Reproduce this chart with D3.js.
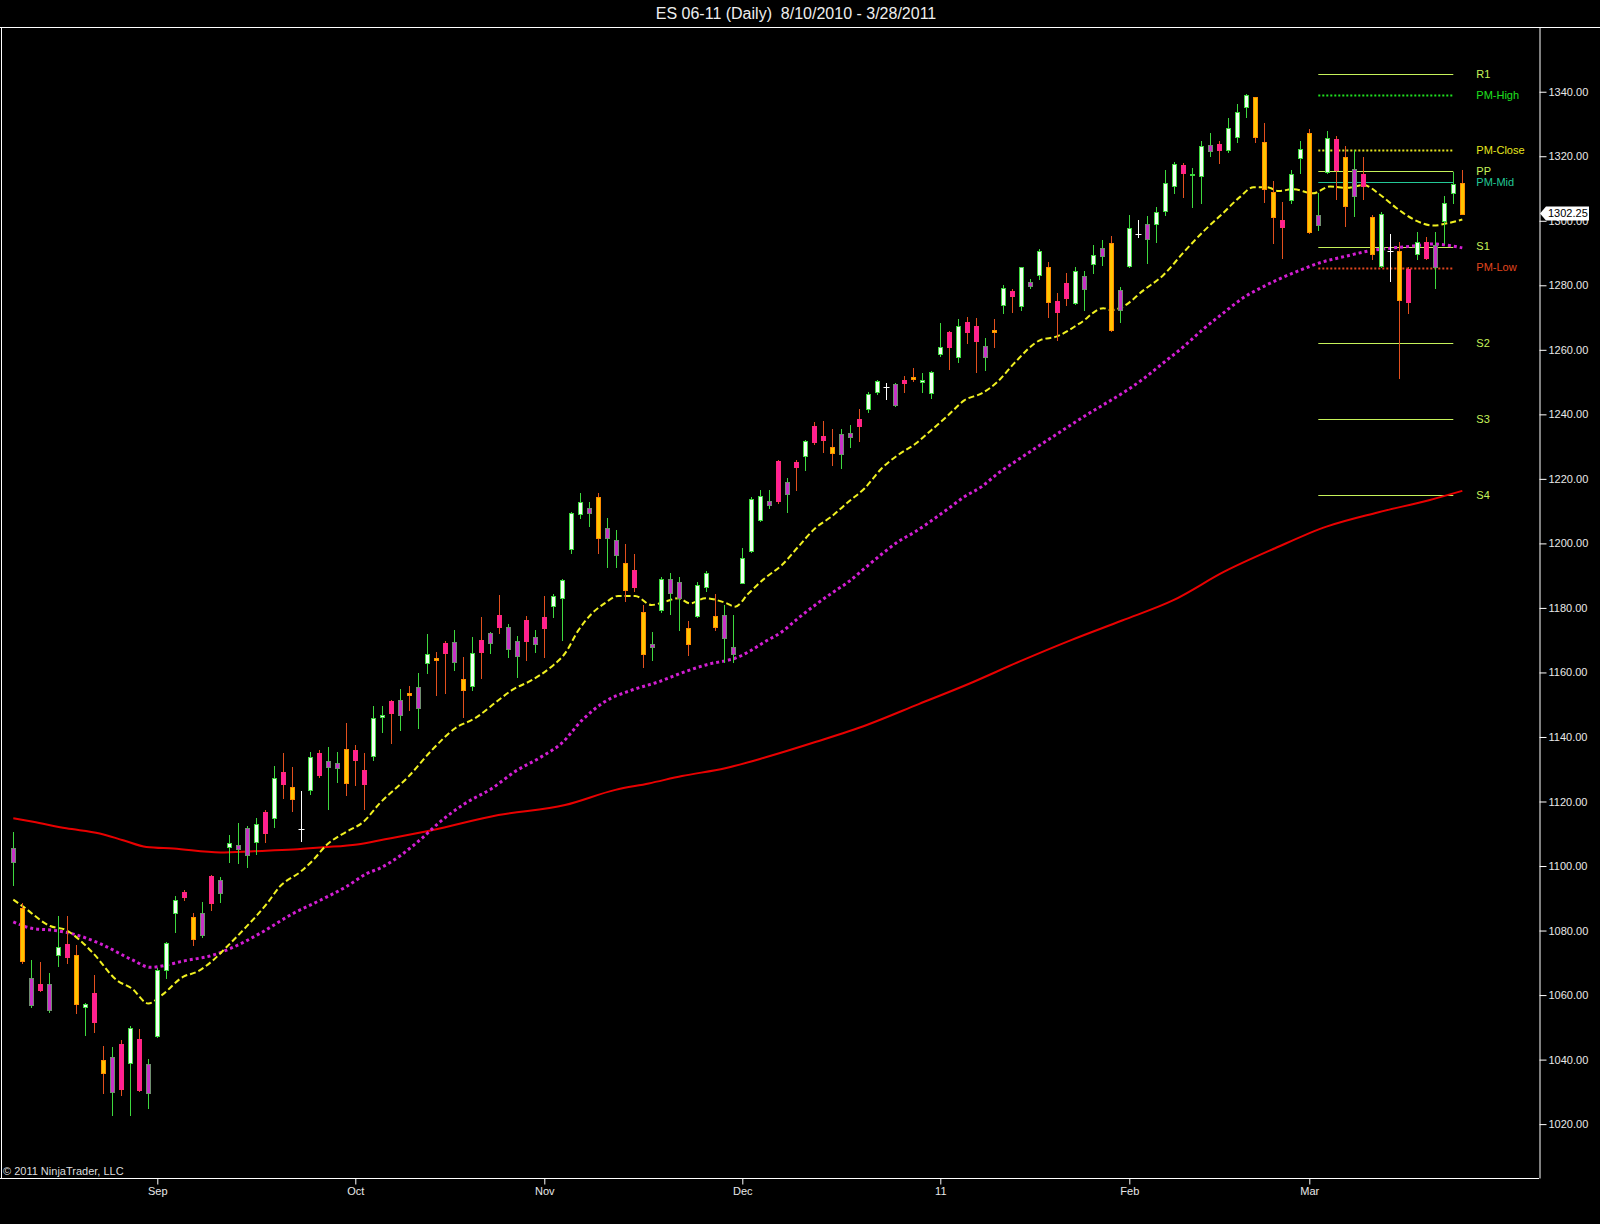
<!DOCTYPE html>
<html>
<head>
<meta charset="utf-8">
<script src="https://cdn.jsdelivr.net/npm/d3@7"></script>
<style>
  body { margin: 0; background: #000; }
  svg { display: block; font-family: "Liberation Sans", Arial, sans-serif; }
</style>
</head>
<body>
<svg id="chart" width="1600" height="1224"></svg>
<script>
// ES 06-11 daily bars (one entry per bar, left to right)
var opens = [1101.1,1087.0,1056.9,1063.4,1055.3,1072.2,1075.8,1072.4,1056.2,1060.5,
  1039.8,1029.9,1044.7,1039.1,1046.3,1029.5,1047.4,1067.7,1085.5,1092.0,
  1084.1,1078.6,1096.9,1091.5,1105.9,1105.2,1103.4,1107.3,1116.7,1114.8,
  1129.2,1124.4,1111.4,1123.5,1135.1,1130.5,1130.3,1136.4,1135.9,1129.7,
  1133.9,1146.2,1151.1,1146.6,1153.5,1149.0,1162.8,1164.4,1169.0,1163.3,
  1158.1,1155.6,1170.0,1169.0,1177.8,1167.2,1165.1,1176.4,1169.0,1177.1,
  1180.6,1183.0,1198.3,1209.3,1209.5,1214.3,1201.9,1196.6,1194.0,1191.9,
  1178.8,1167.8,1179.3,1184.7,1183.0,1173.7,1177.5,1186.4,1177.5,1170.6,
  1165.7,1187.8,1197.7,1207.4,1212.1,1225.5,1215.5,1225.1,1226.9,1236.4,
  1233.3,1229.8,1227.6,1233.0,1238.7,1241.5,1247.0,1248.4,1242.9,1250.8,
  1251.6,1250.1,1246.8,1258.7,1265.4,1257.7,1268.7,1267.5,1257.9,1266.1,
  1273.9,1278.2,1273.6,1279.8,1283.2,1285.8,1275.1,1280.6,1274.6,1279.1,
  1286.5,1289.1,1293.2,1272.3,1286.0,1295.9,1294.2,1299.0,1302.8,1310.8,
  1317.3,1314.2,1313.9,1321.7,1323.8,1321.9,1325.9,1335.2,1338.3,1324.3,
  1309.0,1300.2,1306.4,1319.4,1327.3,1298.7,1315.2,1325.2,1319.9,1307.5,
  1314.5,1301.3,1286.0,1290.7,1290.7,1285.2,1289.9,1293.5,1285.6,1300.0,
  1308.5,1311.8];
var highs = [1110.6,1088.4,1070.8,1070.3,1066.9,1084.5,1084.5,1075.5,1057.5,1066.2,
  1044.2,1044.0,1046.2,1050.4,1049.4,1040.1,1068.3,1076.3,1090.7,1092.5,
  1085.3,1088.9,1097.2,1096.7,1109.6,1113.2,1112.4,1114.8,1117.5,1130.9,
  1135.1,1130.8,1123.3,1135.4,1136.1,1136.9,1135.4,1144.4,1137.5,1135.1,
  1149.6,1149.6,1151.6,1154.8,1155.8,1159.7,1171.9,1166.4,1169.8,1173.1,
  1164.9,1171.0,1177.3,1172.6,1184.0,1175.0,1171.3,1177.5,1173.3,1183.7,
  1184.3,1188.9,1209.8,1215.7,1212.7,1215.5,1207.8,1204.1,1199.8,1196.7,
  1180.9,1172.6,1189.6,1190.9,1189.5,1176.0,1188.1,1191.5,1184.3,1180.9,
  1177.8,1198.5,1214.5,1216.5,1216.5,1225.8,1220.2,1225.8,1232.0,1237.7,
  1238.0,1235.4,1235.4,1236.7,1241.6,1247.0,1250.6,1249.8,1249.8,1251.9,
  1254.4,1252.9,1253.5,1268.4,1265.9,1269.5,1270.1,1269.8,1263.6,1269.5,
  1280.1,1278.8,1285.8,1281.8,1291.1,1287.3,1277.5,1283.9,1285.6,1284.4,
  1292.5,1294.0,1295.3,1279.4,1301.8,1300.2,1301.5,1304.2,1315.7,1318.3,
  1318.0,1316.3,1324.7,1327.1,1324.8,1331.8,1336.2,1339.3,1338.5,1330.4,
  1312.4,1305.9,1315.7,1324.8,1328.3,1308.5,1327.9,1326.3,1323.2,1321.9,
  1319.7,1301.8,1302.8,1295.9,1293.5,1285.8,1296.6,1295.1,1296.6,1307.7,
  1315.2,1315.7];
var lows = [1094.1,1070.0,1056.4,1061.3,1054.8,1069.1,1069.8,1054.3,1047.6,1048.4,
  1029.7,1022.8,1028.9,1022.8,1030.3,1024.9,1046.9,1065.2,1079.6,1089.6,
  1075.5,1078.1,1086.3,1088.9,1101.3,1100.8,1099.7,1103.7,1107.5,1112.0,
  1121.0,1117.1,1107.8,1122.3,1127.5,1117.8,1126.1,1122.0,1125.1,1117.8,
  1132.8,1141.6,1138.0,1142.1,1148.5,1142.7,1159.9,1153.0,1153.5,1160.9,
  1146.3,1154.7,1158.2,1166.1,1172.1,1164.7,1158.5,1164.0,1166.4,1164.7,
  1177.1,1170.2,1197.1,1207.8,1205.4,1197.1,1192.6,1192.8,1182.2,1185.3,
  1161.8,1164.0,1178.8,1178.1,1173.3,1165.4,1177.1,1185.3,1173.3,1163.2,
  1163.2,1187.6,1197.4,1207.0,1210.9,1212.6,1209.8,1216.5,1222.9,1230.8,
  1228.4,1224.3,1223.3,1230.0,1231.8,1240.8,1246.2,1244.7,1242.6,1247.0,
  1250.4,1247.0,1245.1,1258.1,1253.9,1256.3,1262.0,1253.2,1253.7,1261.0,
  1271.5,1271.8,1272.3,1279.1,1281.8,1270.3,1263.0,1273.9,1274.2,1272.3,
  1283.9,1286.3,1265.9,1268.7,1285.6,1294.9,1287.0,1293.5,1301.8,1308.7,
  1307.5,1304.2,1305.6,1320.1,1318.0,1321.4,1324.5,1332.1,1324.5,1305.9,
  1293.2,1288.4,1305.4,1314.9,1296.3,1297.1,1314.9,1306.9,1298.4,1301.5,
  1306.6,1288.0,1285.8,1281.4,1251.4,1271.3,1288.0,1288.0,1279.1,1293.0,
  1305.4,1302.1];
var closes = [1105.5,1070.5,1065.2,1061.5,1063.3,1074.8,1071.8,1057.2,1057.1,1051.4,
  1035.7,1040.9,1030.8,1049.9,1030.5,1038.5,1067.9,1076.0,1089.4,1090.5,
  1077.3,1085.3,1088.6,1095.6,1107.0,1106.4,1111.7,1112.9,1110.1,1127.2,
  1125.6,1120.6,1111.4,1133.7,1128.2,1132.5,1131.8,1125.8,1132.8,1125.3,
  1145.8,1146.8,1147.5,1151.4,1153.0,1155.4,1165.7,1163.8,1165.9,1169.5,
  1154.7,1165.9,1166.4,1172.1,1174.0,1174.0,1169.8,1169.8,1171.1,1173.7,
  1183.8,1188.6,1209.5,1212.9,1210.9,1201.5,1204.9,1201.2,1185.5,1186.5,
  1165.9,1168.8,1188.9,1188.9,1188.1,1168.8,1187.1,1190.7,1174.0,1177.8,
  1167.9,1195.6,1213.9,1214.7,1213.2,1213.2,1219.1,1223.4,1231.7,1231.4,
  1232.0,1227.9,1233.8,1234.1,1236.5,1246.2,1250.4,1248.4,1249.3,1249.8,
  1251.1,1250.6,1253.2,1260.9,1260.9,1267.4,1265.6,1262.8,1261.2,1265.6,
  1279.1,1276.5,1285.6,1281.1,1290.7,1274.9,1271.8,1275.9,1284.4,1283.0,
  1289.4,1291.5,1266.1,1278.5,1297.9,1295.9,1298.9,1302.8,1311.6,1317.5,
  1314.9,1314.5,1323.2,1323.5,1321.9,1328.6,1333.6,1339.0,1325.9,1309.8,
  1301.3,1297.9,1314.4,1322.1,1296.6,1301.8,1325.6,1315.7,1304.6,1315.9,
  1310.8,1289.9,1302.1,1290.7,1275.6,1274.9,1293.5,1288.4,1292.5,1305.6,
  1311.3,1302.25];
// bar colouring as shown: W strong up, M weak up, P weak down, G strong down, D doji
var barKinds = ("MGMPMWPGWP" + "GMPWPMWWWP" + "GMPMWMMWPW" + "PGDWPMMGPP" +
  "WWPMGMWGPM" + "GWPMPMMPMP" + "WWWWMGMMGP" + "GMWMMGWWGM" +
  "MWWWMPMPWP" + "PGMMPWWDMP" + "GWWWPWPPMG" + "WPWMWGPPWM" +
  "WMGMWDMWWW" + "PWWMPWWWGG" + "GPWWGMWPGM" + "PGWDGPWPMW" + "WG").split("");

// moving averages, [bar, value] pairs
var maFast = [[0,1089.6],[1.1,1087.4],[4.1,1081.4],[5.9,1080.1],[7.4,1077.0],[8.9,1072.9],
  [11.5,1064.6],[13.2,1062.0],[15,1057.4],[16.5,1060.0],[18.9,1065.7],[20.4,1067.2],
  [22.2,1070.8],[23.7,1074.9],[25.9,1081.2],[28.2,1088.4],[29.6,1093.6],[31.9,1098.2],
  [33.3,1101.8],[34.8,1106.5],[37,1110.6],[38.9,1113.7],[40.7,1119.4],[43.9,1127.7],
  [46.5,1135.9],[49.1,1142.7],[51.3,1145.8],[53.9,1151.4],[55.4,1154.5],[57.6,1157.6],
  [59.8,1161.8],[61.3,1165.9],[62.8,1173.1],[64.3,1178.3],[65.7,1181.4],[67.2,1183.7],
  [69.1,1183.7],[70.9,1180.9],[72.4,1181.9],[73.9,1183.0],[75.2,1181.4],[76.9,1183.0],
  [79.1,1181.6],[80.2,1180.4],[81.7,1184.5],[83.5,1189.2],[85.4,1193.3],[87.2,1198.9],
  [89.1,1204.7],[90.9,1208.3],[92.8,1212.9],[94.6,1217.1],[96.5,1223.3],[98.3,1227.4],
  [100.2,1230.8],[102,1235.1],[103.9,1239.8],[105.7,1244.4],[107.6,1246.5],[109.4,1250.2],
  [111.2,1255.8],[114.1,1263.0],[115.9,1264.1],[118.5,1268.2],[121.1,1272.9],[122,1272.3],
  [123.3,1273.4],[125.6,1278.5],[127.8,1283.2],[130,1290.1],[132.2,1296.6],[134.4,1302.3],
  [136.3,1307.4],[137.8,1310.4],[139.3,1310.4],[140.6,1309.2],[142.2,1309.8],[144.4,1308.5],
  [146.3,1310.6],[148.2,1310.2],[150,1311.1],[151.9,1308.0],[153.7,1303.9],[155.6,1300.4],
  [157.8,1298.5],[159.3,1299.2],[161,1300.4]];
var maMid = [[0,1082.7],[2.2,1080.6],[4.4,1080.1],[6.7,1078.9],[9.6,1076.0],[13.3,1070.8],
  [15.2,1068.6],[17.8,1069.8],[18.5,1070.3],[22.2,1072.4],[24.1,1074.4],[27.4,1079.1],
  [31.1,1085.3],[34.1,1089.4],[37,1093.6],[39.3,1097.7],[40.7,1099.3],[45.4,1108.6],
  [47.2,1113.2],[50.2,1119.4],[53.2,1124.1],[55.7,1129.2],[58.7,1133.9],[60.9,1138.0],
  [63.2,1145.2],[65.7,1150.9],[68.7,1154.5],[71.7,1157.1],[74.6,1160.2],[77.6,1162.8],
  [79.1,1163.6],[80.2,1164.4],[81.7,1166.4],[83.5,1169.5],[85.4,1172.6],[87.2,1176.8],
  [89.1,1180.9],[90.9,1184.5],[92.8,1188.1],[94.6,1192.3],[96.5,1196.7],[98.3,1200.5],
  [100.2,1203.6],[102,1207.0],[103.9,1210.8],[105.7,1214.5],[107.6,1217.6],[109.4,1221.7],
  [111.3,1225.3],[118.5,1238.5],[125.6,1251.1],[127.8,1256.0],[130,1260.9],[132.2,1266.4],
  [134.4,1271.3],[136.7,1276.2],[138.9,1279.6],[140.7,1282.0],[142.9,1284.6],[145.2,1287.0],
  [148.2,1289.1],[150.7,1290.7],[153,1291.5],[155.6,1292.2],[157.8,1292.8],[161,1291.6]];
var maSlow = [[0,1114.8],[2.2,1113.7],[5.9,1111.7],[9.6,1110.1],[12.2,1108.0],[14.8,1105.9],
  [17.8,1105.4],[23,1104.2],[26.7,1104.6],[31.1,1105.1],[34.4,1105.8],[38.2,1106.7],
  [41.3,1108.3],[46.5,1111.1],[53.9,1115.8],[61.3,1118.9],[66.9,1123.6],[70.6,1125.6],
  [74.3,1127.9],[79.1,1130.3],[83.6,1133.7],[89.2,1138.5],[94.9,1143.8],[100.6,1150.2],
  [106.2,1156.5],[111.9,1163.5],[117.6,1170.1],[123.2,1176.1],[128.9,1182.4],[134.6,1191.3],
  [140.2,1198.5],[145.9,1205.2],[151.6,1209.6],[157.3,1213.4],[161,1216.3]];

// previous-month pivots
var pivotNames  = ["R1", "PM-High", "PM-Close", "PP", "PM-Mid", "S1", "PM-Low", "S2", "S3", "S4"];
var pivotValues = [1345.5, 1339.0, 1322.0, 1315.5, 1312.0, 1292.0, 1285.5, 1262.0, 1238.5, 1215.0];
var pivotFromBar = 145, pivotToBar = 160;

var monthLabels = ["Sep", "Oct", "Nov", "Dec", "11", "Feb", "Mar"];
var monthBars   = [16, 38, 59, 81, 103, 124, 144];
var priceTicks  = [1020, 1040, 1060, 1080, 1100, 1120, 1140, 1160, 1180, 1200,
                   1220, 1240, 1260, 1280, 1300, 1320, 1340];
var lastPrice = 1302.25;

window.onload = function () {
  var svg = d3.select("#chart");
  var W = 1600, top = 27, bottom = 1178, axisX = 1539;

  svg.append("rect").attr("width", W).attr("height", 1224).attr("fill", "#000");

  var n = opens.length;
  var x = d3.scaleLinear().domain([0, n - 1]).range([13.3, 13.3 + 9 * (n - 1)]);
  var y = d3.scaleLinear().domain([1003.3, 1360.06]).range([bottom, top]);

  // frame
  svg.append("line").attr("x1", 0).attr("x2", W).attr("y1", top + 0.5).attr("y2", top + 0.5)
     .attr("stroke", "#fff");
  svg.append("line").attr("x1", 1.5).attr("x2", 1.5).attr("y1", top).attr("y2", bottom)
     .attr("stroke", "#fff");
  svg.append("line").attr("x1", 0).attr("x2", axisX).attr("y1", bottom + 0.5).attr("y2", bottom + 0.5)
     .attr("stroke", "#fff");

  // title
  svg.append("text")
     .attr("x", 796).attr("y", 19)
     .attr("text-anchor", "middle")
     .attr("font-size", "16px")
     .attr("fill", "#eee")
     .attr("xml:space", "preserve")
     .text("ES 06-11 (Daily)  8/10/2010 - 3/28/2011");

  var plot = svg.append("g");

  // pivot lines
  var pivotStyle = {
    "R1":       { color: "#c6f25a", dash: null, w: 1 },
    "PM-High":  { color: "#1fe01f", dash: "2,2", w: 2 },
    "PM-Close": { color: "#e6e61e", dash: "2,2", w: 2 },
    "PP":       { color: "#c6f25a", dash: null, w: 1 },
    "PM-Mid":   { color: "#23c896", dash: null, w: 1 },
    "S1":       { color: "#c6f25a", dash: null, w: 1 },
    "PM-Low":   { color: "#e0461e", dash: "2,2", w: 2 },
    "S2":       { color: "#c6f25a", dash: null, w: 1 },
    "S3":       { color: "#c6f25a", dash: null, w: 1 },
    "S4":       { color: "#c6f25a", dash: null, w: 1 }
  };
  var pivots = pivotNames.map(function (d, i) { return { name: d, v: pivotValues[i] }; });

  plot.selectAll(".pivot")
      .data(pivots)
      .enter().append("line")
      .attr("class", "pivot")
      .attr("x1", x(pivotFromBar)).attr("x2", x(pivotToBar))
      .attr("y1", function (d) { return Math.round(y(d.v)) + 0.5; })
      .attr("y2", function (d) { return Math.round(y(d.v)) + 0.5; })
      .attr("stroke", function (d) { return pivotStyle[d.name].color; })
      .attr("stroke-width", function (d) { return pivotStyle[d.name].w; })
      .attr("stroke-dasharray", function (d) { return pivotStyle[d.name].dash; });

  plot.selectAll(".pivotLabel")
      .data(pivots)
      .enter().append("text")
      .attr("class", "pivotLabel")
      .attr("x", x(pivotToBar) + 23)
      .attr("y", function (d) { return y(d.v); })
      .attr("dy", "0.35em")
      .attr("font-size", "11px")
      .attr("fill", function (d) { return pivotStyle[d.name].color; })
      .text(function (d) { return d.name; });

  // moving averages
  var line = d3.line()
      .x(function (d) { return x(d[0]); })
      .y(function (d) { return y(d[1]); })
      .curve(d3.curveMonotoneX);

  plot.append("path").datum(maSlow).attr("d", line)
      .attr("fill", "none").attr("stroke", "#e80000").attr("stroke-width", 2);
  plot.append("path").datum(maMid).attr("d", line)
      .attr("fill", "none").attr("stroke", "#d21ed2").attr("stroke-width", 3)
      .attr("stroke-dasharray", "3,3");
  plot.append("path").datum(maFast).attr("d", line)
      .attr("fill", "none").attr("stroke", "#f0f020").attr("stroke-width", 2)
      .attr("stroke-dasharray", "6,3");

  // candles
  var kindStyle = {
    W: { fill: "#f2fff2", stroke: "#3ed83e", wick: "#3ed83e" },
    M: { fill: "#c832c8", stroke: "#6f8f6f", wick: "#3ed83e" },
    P: { fill: "#ff1e96", stroke: "#ff2a78", wick: "#e2501e" },
    G: { fill: "#ffc400", stroke: "#ff8c00", wick: "#e2501e" },
    D: { fill: "none",    stroke: "#ffffff", wick: "#ffffff" }
  };
  var bars = d3.range(n).map(function (i) {
    return { i: i, o: opens[i], h: highs[i], l: lows[i], c: closes[i], k: barKinds[i] };
  });
  function cx(d) { return Math.round(x(d.i)) + 0.5; }

  var candle = plot.selectAll(".bar")
      .data(bars)
      .enter().append("g")
      .attr("class", "bar");

  candle.append("line")
      .attr("x1", cx).attr("x2", cx)
      .attr("y1", function (d) { return Math.round(y(d.h)); })
      .attr("y2", function (d) { return Math.round(y(d.l)) + 1; })
      .attr("stroke", function (d) { return kindStyle[d.k].wick; });

  candle.filter(function (d) { return d.k !== "D"; })
      .append("rect")
      .attr("x", function (d) { return cx(d) - 2; })
      .attr("width", 4)
      .attr("y", function (d) { return Math.round(y(Math.max(d.o, d.c))) + 0.5; })
      .attr("height", function (d) {
        return Math.max(1, Math.round(Math.abs(y(d.o) - y(d.c))));
      })
      .attr("fill", function (d) { return kindStyle[d.k].fill; })
      .attr("stroke", function (d) { return kindStyle[d.k].stroke; });

  candle.filter(function (d) { return d.k === "D"; })
      .append("line")
      .attr("x1", function (d) { return cx(d) - 3; })
      .attr("x2", function (d) { return cx(d) + 3; })
      .attr("y1", function (d) { return Math.round(y(d.o)) + 0.5; })
      .attr("y2", function (d) { return Math.round(y(d.o)) + 0.5; })
      .attr("stroke", "#fff");

  // price axis (right)
  var yAxis = svg.append("g")
      .attr("transform", "translate(" + (axisX + 0.5) + ",0)")
      .call(d3.axisRight(y).tickValues(priceTicks).tickFormat(d3.format(".2f"))
              .tickSize(7).tickSizeOuter(0).tickPadding(2));
  yAxis.select(".domain").attr("stroke", "#fff");
  yAxis.selectAll(".tick line").attr("stroke", "#fff");
  yAxis.selectAll(".tick text")
      .attr("fill", "#e8e8e8")
      .attr("font-size", "11px")
      .attr("font-family", "Liberation Sans, Arial, sans-serif");

  // last price marker (sits over the 1300.00 label, as in the source chart)
  var ly = y(lastPrice);
  svg.append("polygon")
     .attr("points", [[axisX + 1, ly], [axisX + 7, ly - 7], [axisX + 50, ly - 7],
                      [axisX + 50, ly + 7], [axisX + 7, ly + 7]].join(" "))
     .attr("fill", "#fff");
  svg.append("text")
     .attr("x", axisX + 9).attr("y", ly).attr("dy", "0.36em")
     .attr("font-size", "11px").attr("fill", "#000")
     .text(d3.format(".2f")(lastPrice));

  // time axis (bottom)
  var xAxis = svg.append("g")
      .attr("transform", "translate(0," + (bottom + 0.5) + ")")
      .call(d3.axisBottom(x).tickValues(monthBars)
              .tickFormat(function (d, i) { return monthLabels[i]; })
              .tickSize(6).tickSizeOuter(0).tickPadding(3));
  xAxis.select(".domain").remove();
  xAxis.selectAll(".tick line").attr("stroke", "#fff");
  xAxis.selectAll(".tick text")
      .attr("fill", "#e8e8e8")
      .attr("font-size", "11px")
      .attr("font-family", "Liberation Sans, Arial, sans-serif");

  svg.append("text")
     .attr("x", 3).attr("y", 1175)
     .attr("font-size", "11px").attr("fill", "#ddd")
     .text("\u00a9 2011 NinjaTrader, LLC");
};
</script>
</body>
</html>
